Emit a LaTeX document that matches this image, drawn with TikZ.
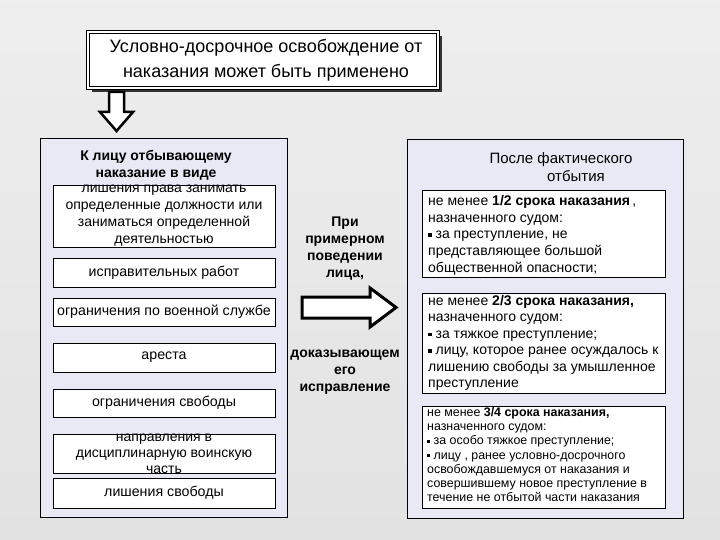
\documentclass[tikz,border=0pt]{standalone}
\usepackage{fontspec}
\setmainfont{Liberation Sans}
\begin{document}
\begin{tikzpicture}[x=1pt,y=-1pt,
  panel/.style={draw=black,fill=lavpanel,line width=0.7pt},
  item/.style={draw=black,fill=white,line width=0.6pt},
  txt/.style={font=\fontsize{14.2}{15}\selectfont,align=center},
  bigarrow/.style={draw=black,fill=white,line width=3pt,line join=miter}]
\definecolor{bg}{HTML}{E2E2E2}
\definecolor{lavpanel}{HTML}{E9E9F5}
\useasboundingbox (0,0) rectangle (720,540);
\shade[top color=bg!60!white,bottom color=bg] (0,0) rectangle (720,540);
% title
\fill[black!80] (92,36) rectangle (442,92);
\node[draw=black,fill=white,line width=1pt,double,double distance=1.5pt,minimum width=350,minimum height=56,inner sep=0pt] (title) at (263,60) {};
\node[txt,font=\fontsize{18}{25}\selectfont] (tt) at (266,60) {Условно-досрочное освобождение от\\наказания может быть применено};
% down arrow
\draw[bigarrow,line width=2.5pt] (109,92) -- (124,92) -- (124,112) -- (133,112) -- (116.5,131) -- (100,112) -- (109,112) -- cycle;
% left panel
\node[panel,minimum width=247,minimum height=379,inner sep=0pt] (lp) at (163.5,327.5) {};
\node[txt,font=\bfseries\fontsize{14}{17}\selectfont] (lh) at (156,165) {К лицу отбывающему\\наказание в виде};
\node[item,minimum width=222,minimum height=62,inner sep=0pt] (b1) at (164,216) {};
\node[txt,font=\fontsize{14}{17}\selectfont] at (b1) {лишения права занимать\\определенные должности или\\заниматься определенной\\деятельностью};
\node[item,minimum width=222,minimum height=29,inner sep=0pt,txt] (b2) at (164,272.5) {исправительных работ};
\node[item,minimum width=222,minimum height=28,inner sep=0pt,txt] (b3) at (164,312) {ограничения по военной службе};
\node[item,minimum width=222,minimum height=29,inner sep=0pt,txt] (b4) at (164,357.5) {ареста};
\node[item,minimum width=222,minimum height=28,inner sep=0pt,txt] (b5) at (164,403) {ограничения свободы};
\node[item,minimum width=222,minimum height=39,inner sep=0pt] (b6) at (164,453.5) {};
\node[txt,font=\fontsize{14}{16}\selectfont] at (b6) {направления в\\дисциплинарную воинскую\\часть};
\node[item,minimum width=222,minimum height=30,inner sep=0pt,txt] (b7) at (164,493) {лишения свободы};
% middle
\node[txt,font=\bfseries\fontsize{14}{17}\selectfont] (m1) at (345,249) {При\\примерном\\поведении\\лица,};
\draw[bigarrow] (302,297) -- (370,297) -- (370,288) -- (396,307.5) -- (370,327) -- (370,318) -- (302,318) -- cycle;
\node[txt,font=\bfseries\fontsize{14}{17}\selectfont] (m2) at (345,372) {доказывающем\\его\\исправление};
% right panel
\node[panel,minimum width=276,minimum height=379,inner sep=0pt] (rp) at (545,328.5) {};
\node[txt,font=\fontsize{15}{18}\selectfont] (rh) at (561,167) {После фактического\\\hspace*{2em}отбытия};
\node[item,minimum width=243,minimum height=87,inner sep=0pt] (r1) at (543.5,233.5) {};
\node[anchor=north west,align=left,font=\fontsize{14}{16.7}\selectfont,inner sep=0pt] at (428,195) {не менее \textbf{1/2 срока наказания}\,,\\назначенного судом:\\\rule[2pt]{3.5pt}{3.5pt} за преступление, не\\представляющее большой\\общественной опасности;};
\node[item,minimum width=243,minimum height=100,inner sep=0pt] (r2) at (543.5,343) {};
\node[anchor=north west,align=left,font=\fontsize{14}{16.5}\selectfont,inner sep=0pt] at (428,295) {не менее \textbf{2/3 срока наказания,}\\назначенного судом:\\\rule[2pt]{3.5pt}{3.5pt} за тяжкое преступление;\\\rule[2pt]{3.5pt}{3.5pt} лицу, которое ранее осуждалось к\\лишению свободы за умышленное\\преступление};
\node[item,minimum width=243,minimum height=102,inner sep=0pt] (r3) at (543.5,457) {};
\node[anchor=north west,align=left,font=\fontsize{12.4}{14.3}\selectfont,inner sep=0pt] at (427,407) {не менее \textbf{3/4 срока наказания,}\\назначенного судом:\\\rule[2pt]{3pt}{3pt} за особо тяжкое преступление;\\\rule[2pt]{3pt}{3pt} лицу , ранее условно-досрочного\\освобождавшемуся от наказания и\\совершившему новое преступление в\\течение не отбытой части наказания};
\end{tikzpicture}
\end{document}
